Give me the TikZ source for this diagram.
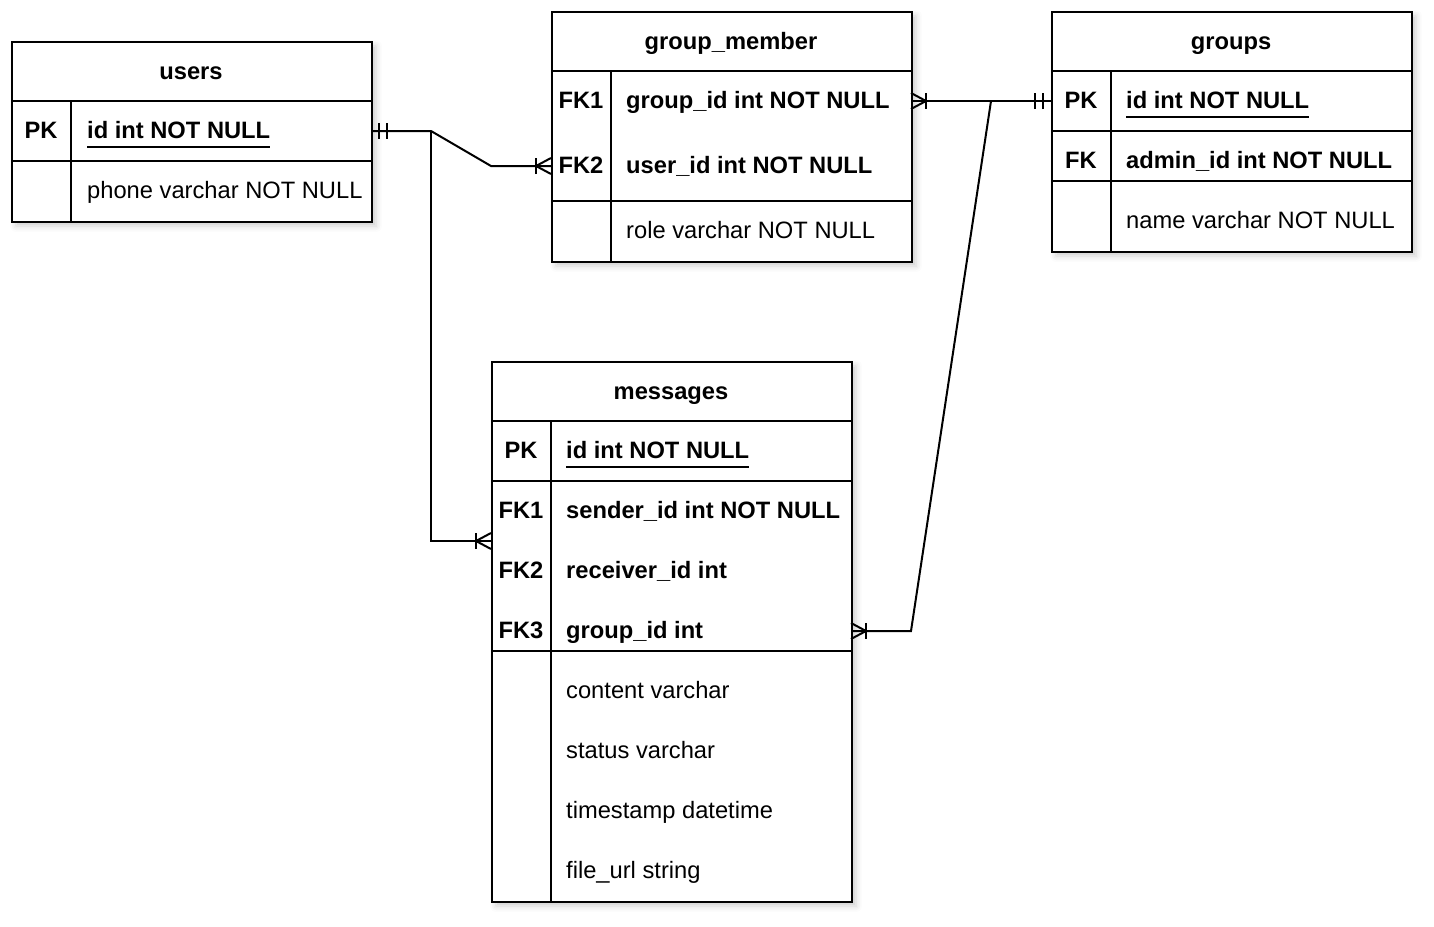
\documentclass[tikz,border=0pt]{standalone}
\usepackage{fontspec}
\setmainfont{Liberation Sans}
\usetikzlibrary{shadows.blur}
\newcommand\ulx[1]{\setbox0\hbox{#1}\rlap{\rule[-10pt]{\wd0}{2pt}}\box0}
\tikzset{
 tbl/.style={draw, line width=2pt, fill=white, anchor=north west, inner sep=0,
   blur shadow={shadow xshift=4pt, shadow yshift=-4pt, shadow blur radius=6pt, shadow opacity=20}},
 key/.style={font=\bfseries\fontsize{23.7}{28}\selectfont, anchor=base, inner sep=0},
 fld/.style={font=\fontsize{23.7}{28}\selectfont, anchor=base west, inner sep=0},
 bfld/.style={font=\bfseries\fontsize{23.7}{28}\selectfont, anchor=base west, inner sep=0},
 sep/.style={line width=2pt},
 conn/.style={line width=2pt, line join=miter},
 crow/.pic={\draw[line width=2pt] (0,-8)--(15,0)--(0,8); \draw[line width=2pt] (15,-8)--(15,8);},
 mone/.pic={\draw[line width=2pt] (8,-8)--(8,8) (16,-8)--(16,8);},
}
\begin{document}
\begin{tikzpicture}[x=1pt,y=-1pt]
\useasboundingbox (0,0) rectangle (1434,926);
% ---------- users ----------
\node[tbl, minimum width=360pt, minimum height=180pt] (users) at (11,41) {};
\draw[sep] (11,101) -- (371,101) (11,161) -- (371,161) (71,101) -- (71,221);
\node[key] (usersT) at (191,79) {users};
\node[key] (usersPK) at (41,138) {PK};
\node[bfld] (usersId) at (87,138) {\ulx{id int NOT NULL}};
\node[fld] (usersPh) at (87,198) {phone varchar NOT NULL};
% ---------- group_member ----------
\node[tbl, minimum width=360pt, minimum height=250pt] (gm) at (551,11) {};
\draw[sep] (551,71) -- (911,71) (551,201) -- (911,201) (611,71) -- (611,261);
\node[key] (gmT) at (731,49) {group\_member};
\node[key] (gmFK1) at (581,108) {FK1};
\node[bfld] (gmG) at (626,108) {group\_id int NOT NULL};
\node[key] (gmFK2) at (581,173) {FK2};
\node[bfld] (gmU) at (626,173) {user\_id int NOT NULL};
\node[fld] (gmR) at (626,238) {role varchar NOT NULL};
% ---------- groups ----------
\node[tbl, minimum width=360pt, minimum height=240pt] (groups) at (1051,11) {};
\draw[sep] (1051,71) -- (1411,71) (1051,131) -- (1411,131) (1051,181) -- (1411,181) (1111,71) -- (1111,251);
\node[key] (grT) at (1231,49) {groups};
\node[key] (grPK) at (1081,108) {PK};
\node[bfld] (grId) at (1126,108) {\ulx{id int NOT NULL}};
\node[key] (grFK) at (1081,168) {FK};
\node[bfld] (grA) at (1126,168) {admin\_id int NOT NULL};
\node[fld] (grN) at (1126,228) {name varchar NOT NULL};
% ---------- messages ----------
\node[tbl, minimum width=360pt, minimum height=540pt] (msg) at (491,361) {};
\draw[sep] (491,421) -- (851,421) (491,481) -- (851,481) (491,651) -- (851,651) (551,421) -- (551,901);
\node[key] (msgT) at (671,399) {messages};
\node[key] (msgPK) at (521,458) {PK};
\node[bfld] (msgId) at (566,458) {\ulx{id int NOT NULL}};
\node[key] (msgFK1) at (521,518) {FK1};
\node[bfld] (msgS) at (566,518) {sender\_id int NOT NULL};
\node[key] (msgFK2) at (521,578) {FK2};
\node[bfld] (msgR) at (566,578) {receiver\_id int};
\node[key] (msgFK3) at (521,638) {FK3};
\node[bfld] (msgG) at (566,638) {group\_id int};
\node[fld] (msgC) at (566,698) {content varchar};
\node[fld] (msgSt) at (566,758) {status varchar};
\node[fld] (msgTs) at (566,818) {timestamp datetime};
\node[fld] (msgF) at (566,878) {file\_url string};
% ---------- anchor points ----------
\coordinate (pUsersId) at (371,131);
\coordinate (pGmUser) at (551,166);
\coordinate (pMsgSender) at (491,541);
\coordinate (pGmGroup) at (911,101);
\coordinate (pGroupsId) at (1051,101);
\coordinate (pMsgGroup) at (851,631);
\coordinate (jUsers) at (431,131);
\coordinate (jGroups) at (991,101);
% ---------- connectors ----------
\draw[conn] (pUsersId) -- (jUsers) -- (491,166) -- (pGmUser);
\draw[conn] (jUsers) -- (431,541) -- (pMsgSender);
\draw[conn] (pGmGroup) -- (pGroupsId);
\draw[conn] (pMsgGroup) -- (911,631) -- (jGroups);
% ---------- end marks ----------
\pic at (pUsersId) {mone};
\pic[rotate=180] at (pGmUser) {crow};
\pic[rotate=180] at (pMsgSender) {crow};
\pic at (pGmGroup) {crow};
\pic[rotate=180] at (pGroupsId) {mone};
\pic at (pMsgGroup) {crow};
\end{tikzpicture}
\end{document}
